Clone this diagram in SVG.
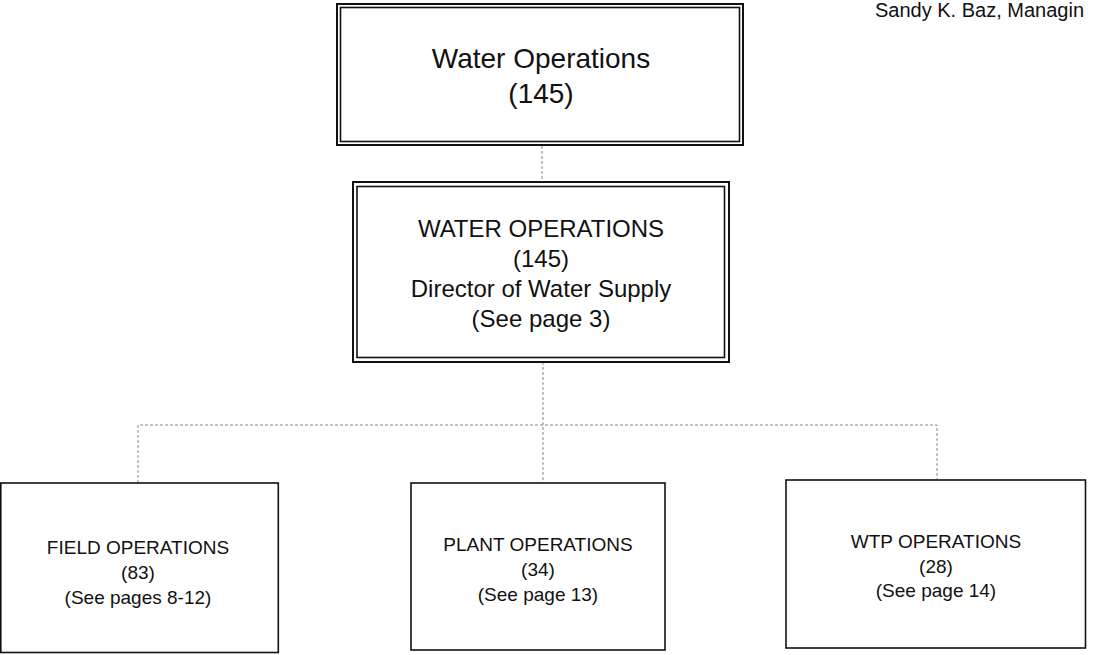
<svg xmlns="http://www.w3.org/2000/svg" width="1093" height="655" viewBox="0 0 1093 655">
  <style>
    .txt { font-family: "Liberation Sans", Arial, sans-serif; fill: #111; text-anchor: middle; }
    .frame { fill: none; stroke: #111; }
    .outer { stroke-width: 2; }
    .inner { stroke-width: 1.6; }
    .single { stroke-width: 1.6; }
    .conn { fill: none; stroke: #888; stroke-width: 1; stroke-dasharray: 3 2; }
  </style>
  <rect width="1093" height="655" fill="#fff"/>

  <text class="txt" x="875" y="17" font-size="20" style="text-anchor:start">Sandy K. Baz, Managin</text>

  <g id="connectors">
    <line class="conn" x1="542" y1="146" x2="542" y2="182"/>
    <line class="conn" x1="543" y1="362" x2="543" y2="483"/>
    <polyline class="conn" points="138,483 138,425 937,425 937,480"/>
  </g>

  <g id="water-operations-top">
    <rect class="frame outer" x="337" y="4" width="406" height="141"/>
    <rect class="frame inner" x="340.5" y="7.5" width="399" height="134"/>
    <text class="txt" x="541" y="68" font-size="28">Water Operations</text>
    <text class="txt" x="541" y="103" font-size="28">(145)</text>
  </g>

  <g id="water-operations-director">
    <rect class="frame outer" x="353" y="182" width="376" height="180"/>
    <rect class="frame inner" x="357" y="186.5" width="367.5" height="171"/>
    <text class="txt" x="541" y="237" font-size="24">WATER OPERATIONS</text>
    <text class="txt" x="541" y="267" font-size="24">(145)</text>
    <text class="txt" x="541" y="297" font-size="24">Director of Water Supply</text>
    <text class="txt" x="541" y="327" font-size="24">(See page 3)</text>
  </g>

  <g id="field-operations">
    <rect class="frame single" x="0.8" y="483" width="277.5" height="169.5"/>
    <text class="txt" x="138" y="554" font-size="19">FIELD OPERATIONS</text>
    <text class="txt" x="138" y="579" font-size="19">(83)</text>
    <text class="txt" x="138" y="604" font-size="19">(See pages 8-12)</text>
  </g>

  <g id="plant-operations">
    <rect class="frame single" x="411" y="483" width="254" height="167"/>
    <text class="txt" x="538" y="551" font-size="19">PLANT OPERATIONS</text>
    <text class="txt" x="538" y="576" font-size="19">(34)</text>
    <text class="txt" x="538" y="601" font-size="19">(See page 13)</text>
  </g>

  <g id="wtp-operations">
    <rect class="frame single" x="786" y="480" width="299.5" height="168"/>
    <text class="txt" x="936" y="548" font-size="19">WTP OPERATIONS</text>
    <text class="txt" x="936" y="573" font-size="19">(28)</text>
    <text class="txt" x="936" y="597" font-size="19">(See page 14)</text>
  </g>
</svg>
